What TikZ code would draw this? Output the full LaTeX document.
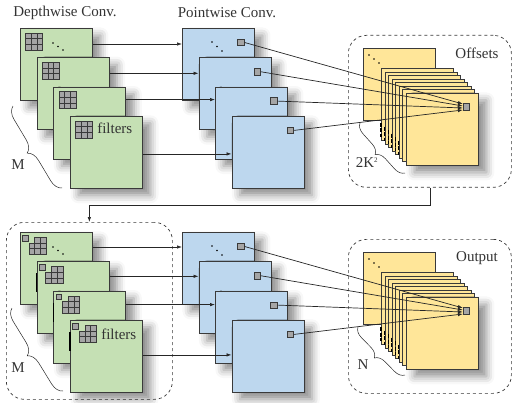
\documentclass[tikz,border=0pt]{standalone}
\usepackage{fontspec}
\setmainfont{Liberation Serif}
\usetikzlibrary{arrows.meta, decorations.pathreplacing, shadows.blur, positioning, calc}

\definecolor{dwgreen}{HTML}{C5E0B4}
\definecolor{pwblue}{HTML}{BDD7EE}
\definecolor{offyellow}{HTML}{FFE699}
\definecolor{cellgray}{HTML}{A5A5A5}
\definecolor{edgegray}{HTML}{3A3A3A}

\tikzset{
  sheet/.style={draw=edgegray, line width=0.8pt, minimum width=72pt, minimum height=72pt,
    inner sep=0pt, anchor=north west},
  shadowed/.style={blur shadow={shadow xshift=8pt, shadow yshift=-7pt,
    shadow blur radius=8pt, shadow opacity=45}},
  green sheet/.style={sheet, shadowed, fill=dwgreen},
  blue sheet/.style={sheet, shadowed, fill=pwblue},
  yellow sheet/.style={sheet, fill=offyellow},
  cell/.style={draw=edgegray, fill=cellgray, line width=0.6pt},
  pick/.style={draw=edgegray, fill=cellgray, line width=0.7pt, minimum size=6.5pt, inner sep=0pt},
  conv/.style={-{Latex[length=5pt,width=3.5pt]}, line width=0.7pt, draw=black!85},
  group box/.style={draw=edgegray, dashed, rounded corners=18pt, line width=0.7pt,
    inner sep=0pt, anchor=north west},
  caption/.style={font=\fontsize{15}{17}\selectfont, text=black!80},
  brace line/.style={decorate, line width=0.5pt, draw=black!85},
  edge tick/.style={line width=1.2pt, dash pattern=on 4pt off 1.5pt},
}

\begin{document}
\begin{tikzpicture}[x=1pt, y=-1pt]
\useasboundingbox (0,0) rectangle (513,403);

% top half: depthwise -> pointwise -> offsets
\node[caption] (dwtitle) at (65,13) {Depthwise Conv.};
\node[caption] (pwtitle) at (227,13) {Pointwise Conv.};
\node[group box, minimum width=163pt, minimum height=152pt] (offbox) at (348,35) {};
\node[caption] (offlabel) at (477,53) {Offsets};

\foreach \i in {1,...,4} {
  \node[green sheet] (dw\i) at ({20+16.7*(\i-1)}, {28+29.3*(\i-1)}) {};
  \foreach \r in {0,1,2} \foreach \c in {0,1,2}
    \draw[cell, shift={($(dw\i.north west)+(5.5,5)$)}] (\c*5.7,\r*5.7) rectangle ++(5.7,5.7);
}
\foreach \d in {0,1,2}
  \fill ([shift={(33+5*\d,15+3.5*\d)}]dw1.north west) circle (0.9pt);
\node[caption, anchor=west, inner sep=0pt] (filt) at ([shift={(27,12)}]dw4.north west) {filters};

\foreach \i in {1,...,4} {
  \node[blue sheet] (pw\i) at ({182+16.5*(\i-1)}, {28+29.3*(\i-1)}) {};
  \node[pick] (px\i) at ([shift={(59,14.5)}]pw\i.north west) {};
}
\foreach \d in {0,1,2}
  \fill ([shift={(30+5*\d,14+4.5*\d)}]pw1.north west) circle (0.9pt);

\node[yellow sheet] (off0) at (363,48) {};
\foreach \d in {0,1,2}
  \fill ([shift={(6+5*\d,7+4*\d)}]off0.north west) circle (0.9pt);
\foreach \k in {1,...,7}
  \node[yellow sheet] (off\k) at ({381+3.57*(\k-1)}, {68+3.57*(\k-1)}) {};
\node[yellow sheet, shadowed] (off8) at ({381+3.57*7}, {68+3.57*7}) {};
\foreach \k in {1,...,6}
  \draw[edge tick] ([shift={(0,55)}]off\k.north west) -- ++(0,14);
\node[pick] (offpt) at ([shift={(60.5,14)}]off8.north west) {};

\foreach \i/\h in {1/16, 2/16, 3/13, 4/38}
  \draw[conv] ([shift={(0,\h)}]dw\i.north east) -- ([shift={(0,\h)}]pw\i.north west);
\foreach \i/\e in {1/-3, 2/-1, 3/1, 4/3}
  \draw[conv] (px\i.east) -- ([shift={(0,\e)}]offpt.west);

\draw[brace line, decoration={brace, amplitude=12pt}] (62,188) -- (13,106);
\node[caption] (mtop) at (18,165) {M};
\draw[brace line, decoration={brace, amplitude=10pt}] (405,173) -- (360,123);
\node[caption] (ktop) at (367,163) {2K\textsuperscript{\scriptsize 2}};

% bottom half: deformable depthwise -> pointwise -> output
\node[group box, minimum width=166pt, minimum height=177pt] (dwbbox) at (6,222) {};
\draw[conv] (offbox.south) -- ++(0,18) -| (dwbbox.north);
\node[group box, minimum width=163pt, minimum height=154pt] (outbox) at (348,239) {};
\node[caption] (outlabel) at (477,258) {Output};

\foreach \i in {1,...,4} {
  \node[green sheet] (dwb\i) at ({20+16.7*(\i-1)}, {232+29.3*(\i-1)}) {};
  \foreach \r/\c in {0/1,0/2,1/0,1/1,1/2,2/0,2/1,2/2}
    \draw[cell, shift={($(dwb\i.north west)+(9,5.3)$)}] (\c*5.7,\r*5.7) rectangle ++(5.7,5.7);
  \draw[cell] ([shift={(2.5,3.3)}]dwb\i.north west) rectangle ++(5.7,5.7);
}
\foreach \i in {2,3,4}
  \draw[line width=1.4pt] ([shift={(0,12)}]dwb\i.north west) -- ++(0,19);
\foreach \d in {0,1,2}
  \fill ([shift={(33+5*\d,15+3.5*\d)}]dwb1.north west) circle (0.9pt);
\node[caption, anchor=west, inner sep=0pt] (filtb) at ([shift={(31,14)}]dwb4.north west) {filters};

\foreach \i in {1,...,4} {
  \node[blue sheet] (pwb\i) at ({182+16.5*(\i-1)}, {232+29.3*(\i-1)}) {};
  \node[pick] (pxb\i) at ([shift={(59,14.5)}]pwb\i.north west) {};
}
\foreach \d in {0,1,2}
  \fill ([shift={(30+5*\d,14+4.5*\d)}]pwb1.north west) circle (0.9pt);

\node[yellow sheet] (out0) at (363,252) {};
\foreach \d in {0,1,2}
  \fill ([shift={(6+5*\d,7+4*\d)}]out0.north west) circle (0.9pt);
\foreach \k in {1,...,7}
  \node[yellow sheet] (out\k) at ({381+3.57*(\k-1)}, {272+3.57*(\k-1)}) {};
\node[yellow sheet, shadowed] (out8) at ({381+3.57*7}, {272+3.57*7}) {};
\foreach \k in {1,...,6}
  \draw[edge tick] ([shift={(0,55)}]out\k.north west) -- ++(0,14);
\node[pick] (outpt) at ([shift={(60.5,14)}]out8.north west) {};

\foreach \i/\h in {1/15, 2/15, 3/14, 4/35}
  \draw[conv] ([shift={(0,\h)}]dwb\i.north east) -- ([shift={(0,\h)}]pwb\i.north west);
\foreach \i/\e in {1/-3, 2/-1, 3/1, 4/3}
  \draw[conv] (pxb\i.east) -- ([shift={(0,\e)}]outpt.west);

\draw[brace line, decoration={brace, amplitude=12pt}] (63,391) -- (12,308);
\node[caption] (mbot) at (18,368) {M};
\draw[brace line, decoration={brace, amplitude=10pt}] (405,375) -- (358,327);
\node[caption] (nbot) at (363,365) {N};
\end{tikzpicture}
\end{document}
